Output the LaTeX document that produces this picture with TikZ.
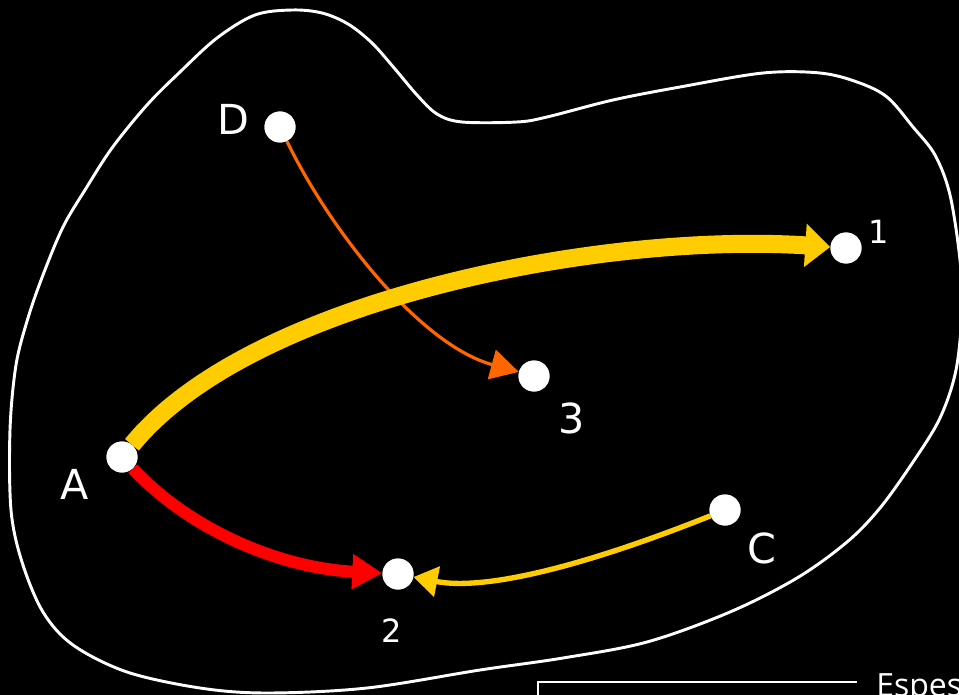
\documentclass[tikz,border=0pt]{standalone}
\usepackage{fontspec}
\setmainfont{DejaVu Sans}
\newfontfamily\legendfont{Open Sans}
\usetikzlibrary{arrows.meta}
\definecolor{ygold}{HTML}{FFCC00}
\definecolor{ored}{HTML}{FF0000}
\definecolor{oorange}{HTML}{FF6600}
\tikzset{
  dot/.style={circle, fill=white, draw=none, minimum size=23.25pt, inner sep=0pt},
  biglab/.style={text=white, inner sep=0pt, font=\fontsize{31}{31}\selectfont},
  smalllab/.style={text=white, inner sep=0pt, font=\fontsize{24}{24}\selectfont},
  outline/.style={draw=white, line width=2.2pt},
  thickyellow/.style={draw=ygold, line width=13.5pt, -{Triangle[length=18.75pt,width=31.5pt]}},
  redarrow/.style={draw=ored, line width=9pt, -{Triangle[length=22.5pt,width=25pt]}},
  orangearrow/.style={draw=oorange, line width=2.4pt, -{Triangle[length=21pt,width=22.5pt]}},
  goldarrow/.style={draw=ygold, line width=4pt, -{Triangle[length=18pt,width=22.5pt]}},
}
\begin{document}
\begin{tikzpicture}[x=0.75pt,y=-0.75pt]
\fill[black] (0,0) rectangle (959,695);
\useasboundingbox (0,0) rectangle (959,695);
\clip (0,0) rectangle (959,695);
% outline blob
\draw[outline] plot[smooth cycle, tension=0.55] coordinates {
(255,15) (292,10) (322,13) (348,24) (372,43) (395,69) (417,95) (437,114) (462,122)
(517,122) (547,117) (613,100) (680,87) (763,73) (820,73) (857,82) (887,97)
(913,127) (935,155) (950,195) (960,260) (962,310) (956,370) (940,418)
(913,462) (880,508) (847,542) (797,578) (730,612) (647,642) (563,658)
(480,670) (367,688) (267,693) (200,688) (127,672) (73,645) (43,612) (22,562)
(11,510) (10,430) (16,365) (28,318) (43,275) (63,227) (85,190) (112,148)
(147,105) (180,72) (217,38)};
% legend box fragment
\coordinate (lb) at (538,700);
\coordinate (lc) at (538,682);
\coordinate (lr) at (857,682);
\draw[white, line width=1.5pt] (lb) -- (lc) -- (lr);
\node[anchor=base west, text=white, inner sep=0pt, font=\legendfont\fontsize{24}{24}\selectfont] (esp) at (876,696) {Espes};
% dots
\node[dot] (D) at (280,127) {};
\node[dot] (n1) at (846,248) {};
\node[dot] (n3) at (534,376) {};
\node[dot] (A) at (122,457) {};
\node[dot] (n2) at (398,574) {};
\node[dot] (C) at (725,510) {};
% arrows
\draw[orangearrow] (D) .. controls (330,230) and (420,345) .. (n3);
\draw[thickyellow] (A) .. controls (250,300) and (600,232) .. (n1);
\draw[redarrow] (A) .. controls (190,530) and (280,568) .. (n2);
\draw[goldarrow] (C) .. controls (600,560) and (490,592) .. (n2);
% redraw dots on top
\node[dot] at (D) {};
\node[dot] at (n1) {};
\node[dot] at (n3) {};
\node[dot] at (A) {};
\node[dot] at (n2) {};
\node[dot] at (C) {};
% labels
\node[biglab] (lD) at (233,119) {D};
\node[biglab] (lA) at (75,484) {A};
\node[biglab] (lC) at (762,548) {C};
\node[biglab] (l3) at (572,418) {3};
\node[smalllab] (l1) at (879,232) {1};
\node[smalllab] (l2) at (392,631) {2};
\end{tikzpicture}
\end{document}
